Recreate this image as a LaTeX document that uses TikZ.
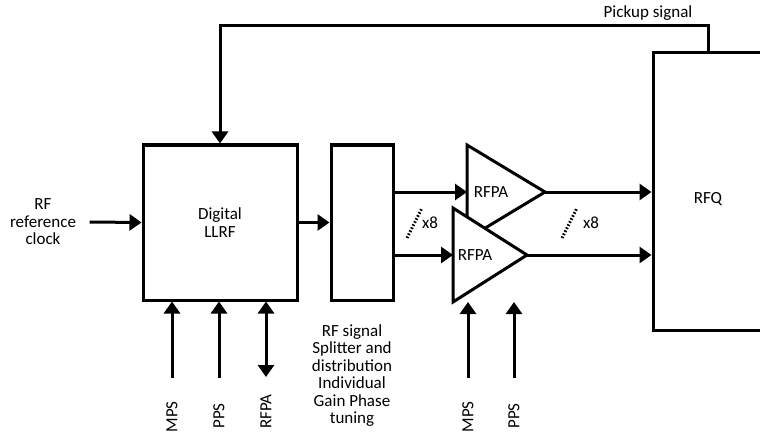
\documentclass[tikz,border=0pt]{standalone}
\usepackage{fontspec}
\setmainfont{Carlito}
\usetikzlibrary{arrows.meta,positioning}

\begin{document}
\begin{tikzpicture}[x=1pt,y=-1pt, node distance=31pt and 31pt,
 every node/.style={font=\fontsize{17}{17.5}\selectfont},
 blk/.style={draw,line width=3pt,inner sep=0pt,align=center},
 arr/.style={-{Triangle[length=12pt,width=16pt]},line width=3pt},
 dual/.style={{Triangle[length=12pt,width=16pt]}-{Triangle[length=12pt,width=16pt]},line width=3pt},
 amp/.style={draw,line width=3pt,fill=white,line join=miter},
 dots/.style={line width=3pt,dash pattern=on 1.6pt off 1.8pt},
 vlab/.style={rotate=90,anchor=east,inner sep=1pt}]
\useasboundingbox (0,0) rectangle (760,433);

% main blocks
\node[blk,minimum width=154pt,minimum height=155pt] (llrf) at (220,222.5) {Digital\\LLRF};
\node[blk,minimum width=62pt,minimum height=155pt,right=31pt of llrf] (split) {};
\node[blk,minimum width=110pt,minimum height=277pt] (rfq) at (708,191.5) {};
\node at (708,199) {RFQ};

% amplifiers
\draw[amp] (467,145) -- (545,192) -- (467,239) -- cycle;
\coordinate (a1in) at (467,192); \coordinate (a1out) at (545,192);
\draw[amp] (453,208) -- (527,255) -- (453,302) -- cycle;
\coordinate (a2in) at (453,255); \coordinate (a2out) at (527,255);
\coordinate (a2bot) at (453,302);
\node (amp1) at (491,192) {RFPA};
\node (amp2) at (475,255) {RFPA};

% texts
\node[align=center] (ref) at (43,222) {RF\\reference\\clock};
\node[align=center,anchor=north] (splab) at (352,321) {RF signal\\Splitter and\\distribution\\Individual\\Gain Phase\\tuning};
\node (pick) at (648,13) {Pickup signal};
\node[vlab] (mps1) at (172,400) {MPS};
\node[vlab] (pps1) at (219,402) {PPS};
\node[vlab] (rfpa1) at (266,393) {RFPA};
\node[vlab] (mps2) at (468,400) {MPS};
\node[vlab] (pps2) at (514,402) {PPS};
\node (n1) at (430,223) {x8};
\node (n2) at (591,223) {x8};

% connectors
\draw[arr] ([xshift=10pt]ref.east) -- (llrf.west);
\draw[arr] (llrf) -- (split);
\draw[arr] (split.east |- a1in) -- (a1in);
\draw[arr] (split.east |- a2in) -- (a2in);
\draw[arr] (a1out) -- (rfq.west |- a1out);
\draw[arr] (a2out) -- (rfq.west |- a2out);
\draw[arr] (rfq.north) -- ++(0,-26) -| (llrf.north);
\draw[arr] ([yshift=22pt]mps1.east) -- (mps1.east |- llrf.south);
\draw[arr] ([yshift=24pt]pps1.east) -- (pps1.east |- llrf.south);
\draw[dual] ([yshift=16pt]rfpa1.east) -- (rfpa1.east |- llrf.south);
\draw[arr] ([yshift=22pt]mps2.east) -- (mps2.east |- a2bot);
\draw[arr] ([yshift=24pt]pps2.east) -- (pps2.east |- a2bot);
\draw[dots] (407,238) -- (422,208);
\draw[dots] (562,238) -- (577,208);
\end{tikzpicture}
\end{document}
